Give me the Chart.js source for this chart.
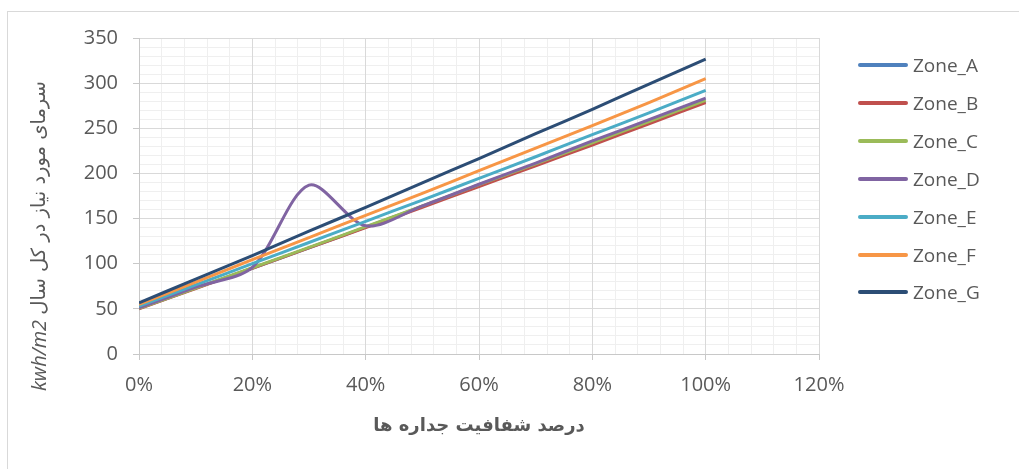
<!DOCTYPE html>
<html>
<head>
<meta charset="utf-8">
<script src="https://cdn.jsdelivr.net/npm/chart.js@4/dist/chart.umd.min.js"></script>
<style>
  html, body { margin: 0; padding: 0; background: #fff; }
  #wrap { position: relative; width: 1019px; height: 469px; overflow: hidden; }
  #frame { position: absolute; left: 7px; top: 11px; width: 1200px; height: 600px;
           border-left: 1px solid #D9D9D9; border-top: 1px solid #D9D9D9; }
  #chart { position: absolute; left: 0; top: 0; }
  #legend { position: absolute; left: 858px; top: 0; font-family: "Open Sans", sans-serif;
            font-size: 19px; color: #595959; }
  .row { position: absolute; left: 0; height: 24px; display: flex; align-items: center; white-space: nowrap; }
  .sw { width: 50px; height: 4px; border-radius: 2px; margin-right: 5px; }
</style>
</head>
<body>
<div id="wrap">
  <div id="frame"></div>
  <canvas id="chart" width="1019" height="469"></canvas>
  <div id="legend"></div>
</div>
<script>
// Glazing ratio of the walls (%)
const glazing = [0, 10, 20, 30, 40, 50, 60, 70, 80, 90, 100];

// Annual cooling demand per zone (kWh/m2)
const zoneA = [50.5, 73, 95, 117.5, 140.5, 163.5, 186.5, 209.5, 233, 256.5, 280];
const zoneB = [50, 72.5, 95, 117.5, 140, 162.5, 185.5, 208.5, 231.5, 255, 278.5];
const zoneC = [50.5, 73, 95.5, 118, 141, 164, 187.5, 210.5, 234, 257.5, 281];
const zoneD = [51, 74, 96, 187, 142, 164, 188, 211.5, 236, 259.5, 283.5];
const zoneE = [53, 76.5, 100, 123.5, 147, 170.5, 194.5, 218.5, 243, 267, 292];
const zoneF = [55, 79.5, 104.5, 129, 153.5, 178, 203, 228, 253, 278.5, 305];
const zoneG = [56.5, 83, 109, 136, 162.5, 189.5, 216.5, 244, 271, 299, 326.5];

const seriesNames = ['Zone_A', 'Zone_B', 'Zone_C', 'Zone_D', 'Zone_E', 'Zone_F', 'Zone_G'];
const seriesValues = [zoneA, zoneB, zoneC, zoneD, zoneE, zoneF, zoneG];
const seriesColors = ['#4F81BD', '#C0504D', '#9BBB59', '#8064A2', '#4BACC6', '#F79646', '#2C4D75'];

const xTitle = 'درصد شفافیت جداره ها';
const yTitleUnit = 'kwh/m2';
const yTitleText = 'سرمای مورد نیاز در کل سال';

const TEXT = '#595959';
const FONT = '"Open Sans", sans-serif';

const datasets = seriesValues.map((vals, i) => ({
  label: seriesNames[i],
  data: glazing.map((x, j) => ({ x: x, y: vals[j] })),
  borderColor: seriesColors[i],
  backgroundColor: seriesColors[i],
  borderWidth: 3,
  pointRadius: 0,
  tension: 0.3,
  fill: false,
  order: seriesNames.length - i
}));

// Axis titles: the vertical one mixes an italic unit with upright Persian text
const titlesPlugin = {
  id: 'axisTitles',
  afterDraw(chart) {
    const { ctx, chartArea } = chart;
    ctx.save();
    ctx.fillStyle = TEXT;
    ctx.textBaseline = 'middle';

    ctx.font = 'bold 18px "DejaVu Sans", ' + FONT;
    ctx.textAlign = 'center';
    ctx.fillText(xTitle, (chartArea.left + chartArea.right) / 2, chartArea.bottom + 72);

    const cy = (chartArea.top + chartArea.bottom) / 2 + 40;
    ctx.translate(40, cy);
    ctx.rotate(-Math.PI / 2);
    ctx.textAlign = 'left';
    const unitFont = 'italic 20px ' + FONT;
    const textFont = '19.5px "DejaVu Sans", ' + FONT;
    ctx.font = unitFont;
    const wu = ctx.measureText(yTitleUnit + ' ').width;
    ctx.font = textFont;
    const wt = ctx.measureText(yTitleText).width;
    const x0 = -(wu + wt) / 2;
    ctx.font = unitFont;
    ctx.fillText(yTitleUnit, x0, 0);
    ctx.font = textFont;
    ctx.fillText(yTitleText, x0 + wu, 0);
    ctx.restore();
  }
};

const tickFont = { family: FONT, size: 20 };

const chart = new Chart(document.getElementById('chart'), {
  type: 'line',
  data: { datasets },
  plugins: [titlesPlugin],
  options: {
    responsive: false,
    animation: false,
    layout: { padding: { top: 38, right: 200, left: 0, bottom: 0 } },
    plugins: { legend: { display: false }, tooltip: { enabled: false } },
    scales: {
      xMinor: {
        type: 'linear', position: 'bottom', min: 0, max: 120, z: -1,
        ticks: { stepSize: 4, display: false },
        grid: { color: '#EFEFEF', drawTicks: false },
        border: { display: false },
        afterFit(s) { s.height = 0; }
      },
      yMinor: {
        type: 'linear', position: 'left', min: 0, max: 350, z: -1,
        ticks: { stepSize: 10, display: false },
        grid: { color: '#EFEFEF', drawTicks: false },
        border: { display: false },
        afterFit(s) { s.width = 0; }
      },
      x: {
        type: 'linear', position: 'bottom', min: 0, max: 120,
        ticks: { stepSize: 20, color: TEXT, font: tickFont, padding: 13, maxRotation: 0,
                 callback: v => v + '%' },
        grid: { color: '#D9D9D9', tickLength: 6, tickColor: '#C8C8C8' },
        border: { color: '#C8C8C8' },
        afterFit(s) { s.height = 115; }
      },
      y: {
        type: 'linear', position: 'left', min: 0, max: 350,
        ticks: { stepSize: 50, color: TEXT, font: tickFont, padding: 15 },
        grid: { color: '#D9D9D9', tickLength: 6, tickColor: '#C8C8C8' },
        border: { color: '#C8C8C8' },
        afterFit(s) { s.width = 139; }
      }
    }
  }
});

// Legend entries built from the chart's datasets
const legend = document.getElementById('legend');
chart.data.datasets.forEach((ds, i) => {
  const row = document.createElement('div');
  row.className = 'row';
  row.style.top = (65 + i * 37.9 - 12) + 'px';
  const sw = document.createElement('span');
  sw.className = 'sw';
  sw.style.background = ds.borderColor;
  const label = document.createElement('span');
  label.textContent = ds.label;
  row.appendChild(sw);
  row.appendChild(label);
  legend.appendChild(row);
});
</script>
</body>
</html>
